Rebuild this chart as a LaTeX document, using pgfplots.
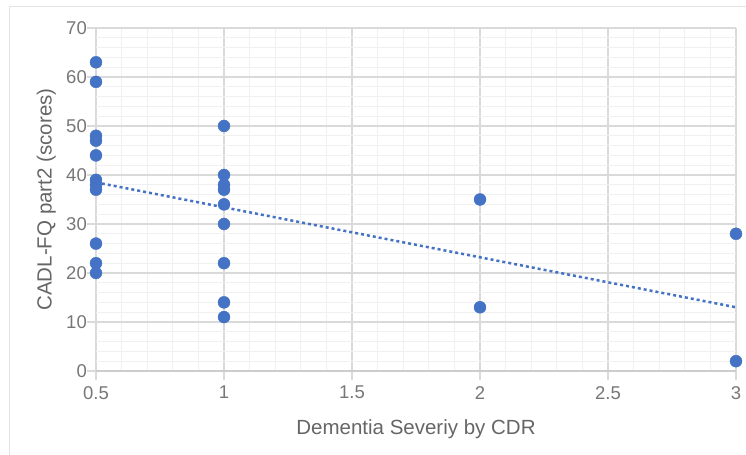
\documentclass[border=0pt]{standalone}
\usepackage{fontspec}
\setmainfont{Liberation Sans}
\usepackage{pgfplots}
\pgfplotsset{compat=1.18}
\definecolor{ptblue}{HTML}{4472C4}
\definecolor{gridmaj}{HTML}{DADADA}
\definecolor{gridmin}{HTML}{F0F0F0}
\definecolor{axisc}{HTML}{CCCCCC}
\definecolor{tickc}{HTML}{777777}
\definecolor{labc}{HTML}{666666}
\definecolor{framec}{HTML}{E4E4E4}
\begin{document}
\begin{tikzpicture}
\begin{axis}[
  name=ax,
  scale only axis,
  width=640pt, height=343pt,
  xmin=0.5, xmax=3, ymin=0, ymax=70,
  xtick={0.5,1,1.5,2,2.5,3},
  xticklabels={0.5,1,1.5,2,2.5,3},
  ytick={0,10,20,30,40,50,60,70},
  minor x tick num=4,
  minor y tick num=4,
  grid=both,
  major grid style={color=gridmaj, line width=1.2pt},
  minor grid style={color=gridmin, line width=1pt},
  axis x line*=bottom,
  axis y line*=left,
  x axis line style={color=axisc, line width=1.3pt},
  y axis line style={draw=none},
  tick align=outside,
  major tick length=9pt,
  minor tick length=0pt,
  major tick style={color=gridmaj, line width=1.2pt},
  /pgf/number format/assume math mode=true,
  ticklabel style={font=\fontsize{18.5}{20}\selectfont, text=tickc},
  xticklabel style={inner sep=0pt, anchor=north, yshift=-6pt},
  yticklabel style={inner sep=0pt, anchor=east},
  xlabel={Dementia Severiy by CDR},
  ylabel={CADL-FQ part2 (scores)},
  label style={font=\fontsize{20.5}{22}\selectfont, text=labc},
  xlabel style={at={(rel axis cs:0.5,0)}, anchor=north, inner sep=0pt, yshift=-48pt},
  ylabel style={at={(rel axis cs:0,0.5)}, anchor=south, inner sep=0pt, rotate=0, yshift=40pt},
  clip=false,
]
\addplot[only marks, mark=*, mark size=6pt, mark options={fill=ptblue, draw=ptblue}] coordinates {
  (0.5,63) (0.5,59) (0.5,48) (0.5,47) (0.5,44) (0.5,39) (0.5,38) (0.5,37)
  (0.5,26) (0.5,22) (0.5,20)
  (1,50) (1,40) (1,38) (1,37) (1,34) (1,30) (1,22) (1,14) (1,11)
  (2,35) (2,13)
  (3,28) (3,2)
};
\addplot[ptblue, line width=2.5pt, dash pattern=on 3pt off 3pt] coordinates {(0.5,38.5) (3,13.0)};
\end{axis}
\path[use as bounding box] ([xshift=-96pt,yshift=-84pt]ax.south west) rectangle ([xshift=10pt,yshift=28pt]ax.north east);
\draw[framec, line width=1pt] ([xshift=-86pt,yshift=-90pt]ax.south west) -- ([xshift=-86pt,yshift=21pt]ax.north west) -- ([xshift=20pt,yshift=21pt]ax.north east);
\end{tikzpicture}
\end{document}
